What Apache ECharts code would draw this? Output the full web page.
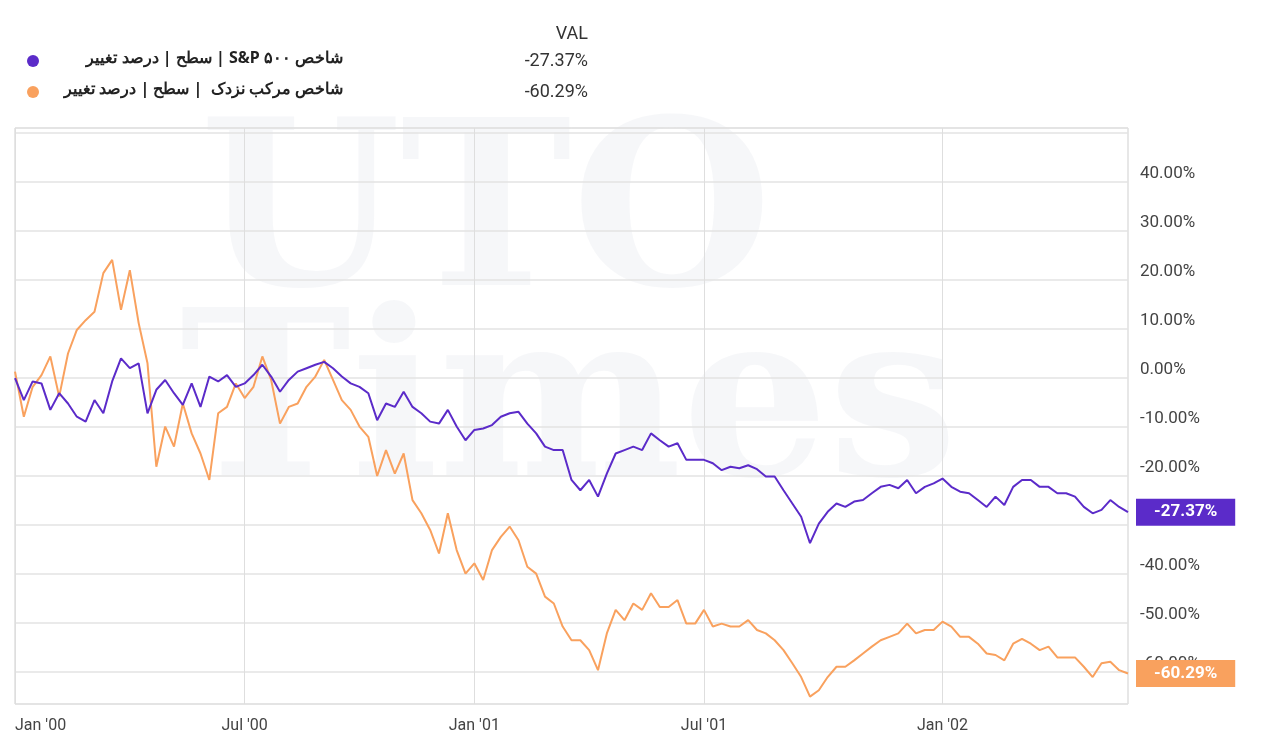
<!DOCTYPE html>
<html><head><meta charset="utf-8">
<script src="https://cdn.jsdelivr.net/npm/echarts@6/dist/echarts.min.js"></script>
<style>html,body{margin:0;padding:0;background:#fff}#c{width:1280px;height:753px}</style>
</head><body><div id="c"></div>
<script>
const seriesNames = ['شاخص S&P ۵۰۰ | سطح | درصد تغییر', 'شاخص مرکب نزدک  | سطح | درصد تغییر'];
const lastValues = ['-27.37%', '-60.29%'];
const spx = [0,-4.5,-0.7,-1.1,-6.5,-3.1,-5.2,-7.9,-8.9,-4.5,-7.2,-0.7,4,2,3,-7.2,-2.4,-0.4,-3.1,-5.5,
-1.1,-5.9,0.3,-0.7,0.6,-1.8,-1.1,0.6,2.7,0.3,-2.8,-0.4,1.3,2,2.7,3.3,2,0.3,-1.1,-1.8,
-3.1,-8.6,-5.2,-5.9,-2.8,-5.9,-7.2,-8.9,-9.3,-6.5,-9.9,-12.7,-10.6,-10.3,-9.6,-7.9,-7.2,-6.9,-9.3,-11.3,
-14,-14.7,-14.7,-20.8,-22.9,-20.8,-24.2,-19.5,-15.4,-14.7,-14,-14.7,-11.3,-12.7,-14,-13.3,-16.7,-16.7,-16.7,-17.4,
-18.8,-18.1,-18.4,-17.8,-18.6,-20.1,-20.1,-22.9,-25.6,-28.3,-33.7,-29.7,-27.3,-25.6,-26.3,-25.2,-24.9,-23.5,-22.2,-21.8,
-22.5,-20.8,-23.5,-22.2,-21.5,-20.5,-22.2,-23.2,-23.5,-24.9,-26.3,-24.2,-25.9,-22.2,-20.8,-20.8,-22.2,-22.2,-23.5,-23.5,
-24.2,-26.3,-27.6,-26.9,-24.9,-26.3,-27.37];
const ndx = [1.3,-7.9,-1.8,0.6,4.4,-3.8,5,9.8,11.8,13.5,21.4,24.1,13.9,22,11.2,3,-18.1,-9.9,-14,-5.2,
-11.3,-15.4,-20.8,-7.2,-5.9,-1.1,-4.1,-1.8,4.4,-0.4,-9.3,-5.9,-5.2,-1.8,0.3,3.7,-0.4,-4.5,-6.5,-9.9,
-12,-20,-14.7,-19.5,-15.4,-24.9,-27.6,-31,-35.8,-27.6,-35.1,-39.9,-37.8,-41.2,-35.1,-32.4,-30.3,-33.1,-38.5,-39.9,
-44.6,-46,-50.7,-53.5,-53.5,-55.5,-59.6,-52.1,-47.3,-49.4,-46,-47.3,-43.9,-46.7,-46.7,-45.3,-50.1,-50.1,-47.3,-50.7,
-50.1,-50.7,-50.7,-49.4,-51.4,-52.1,-53.5,-55.5,-58.2,-61,-65,-63.7,-61,-58.9,-58.9,-57.6,-56.2,-54.8,-53.5,-52.8,
-52.1,-50.1,-52.1,-51.4,-51.4,-49.7,-50.7,-52.8,-52.8,-54.2,-56.2,-56.5,-57.6,-54.2,-53.2,-54.2,-55.5,-54.8,-57,-57,
-57,-58.9,-61,-58.2,-57.9,-59.6,-60.29];
const monthNames = ['Jan','Feb','Mar','Apr','May','Jun','Jul','Aug','Sep','Oct','Nov','Dec'];
const dates = [];
for (let i = 0; i < spx.length; i++) { dates.push(new Date(Date.UTC(2000,0,3) + i*7*86400000)); }
const categories = dates.map(d => d.toISOString().slice(0,10));
function tickIdx(i){ const d = dates[i]; return (d.getUTCMonth()===0||d.getUTCMonth()===6) && d.getUTCDate()<=7; }
const colors = ['#5b2bc9', '#f9a15e'];
const rtl = s => '\u202B' + s + '\u202C';

const chart = echarts.init(document.getElementById('c'));
const font = 'Roboto, "Noto Sans", sans-serif';
chart.setOption({
  animation:false,
  grid:{left:15,right:152,top:128,bottom:49,show:true,borderColor:'#cfcfcf',borderWidth:1},
  xAxis:{type:'category',data:categories,boundaryGap:false,
    axisLine:{show:false},axisTick:{show:false},
    splitLine:{show:true,interval:(i)=>tickIdx(i),lineStyle:{color:'#dedede'}},
    axisLabel:{interval:(i)=>tickIdx(i),color:'#444',fontSize:16,fontFamily:font,margin:14,alignMinLabel:'left',
      formatter:(v)=>{const d=new Date(v);return monthNames[d.getUTCMonth()]+" '"+String(d.getUTCFullYear()).slice(2);}}},
  yAxis:{type:'value',position:'right',min:-66.5,max:51,splitNumber:12,
    axisLine:{show:false},axisTick:{show:false},
    splitLine:{lineStyle:{color:'#e3e3e3',width:1.5}},
    axisLabel:{showMinLabel:false,showMaxLabel:false,color:'#444',fontSize:17,fontFamily:font,margin:12,verticalAlign:'bottom',
      formatter:(v)=>v>=45?'':v.toFixed(2)+'%'}},
  graphic:[
    {type:'text',left:200,top:110,z:-1,style:{text:'UTO',font:'bold 230px "DejaVu Serif", serif',fill:'rgba(200,205,220,0.16)'}},
    {type:'text',left:180,top:300,z:-1,style:{text:'Times',font:'bold 230px "DejaVu Serif", serif',fill:'rgba(200,205,220,0.16)'}},
    {type:'text',right:692,top:25,style:{text:'VAL',font:'18px '+font,fill:'#333',align:'right'}},
    {type:'circle',shape:{cx:33,cy:61,r:6},style:{fill:colors[0]}},
    {type:'circle',shape:{cx:33,cy:92,r:6},style:{fill:colors[1]}},
    {type:'text',right:937,top:50,style:{text:rtl(seriesNames[0]),font:'bold 16px "Noto Sans", sans-serif',fill:'#222'}},
    {type:'text',right:937,top:81,style:{text:rtl(seriesNames[1]),font:'bold 16px "Noto Sans", sans-serif',fill:'#222'}},
    {type:'text',right:692,top:52,style:{text:lastValues[0],font:'18px '+font,fill:'#333'}},
    {type:'text',right:692,top:83,style:{text:lastValues[1],font:'18px '+font,fill:'#333'}}
  ],
  series:[ndx,spx].map((arr,k)=>({
    type:'line',data:arr,showSymbol:false,symbol:'none',
    lineStyle:{width:2,color:colors[1-k]},z:k+2,
    endLabel:{show:true,formatter:()=>lastValues[1-k],color:'#fff',fontSize:17,fontWeight:'bold',fontFamily:font,
      backgroundColor:colors[1-k],padding:[5,18,5,18],offset:[0,0]}
  }))
});
</script></body></html>
